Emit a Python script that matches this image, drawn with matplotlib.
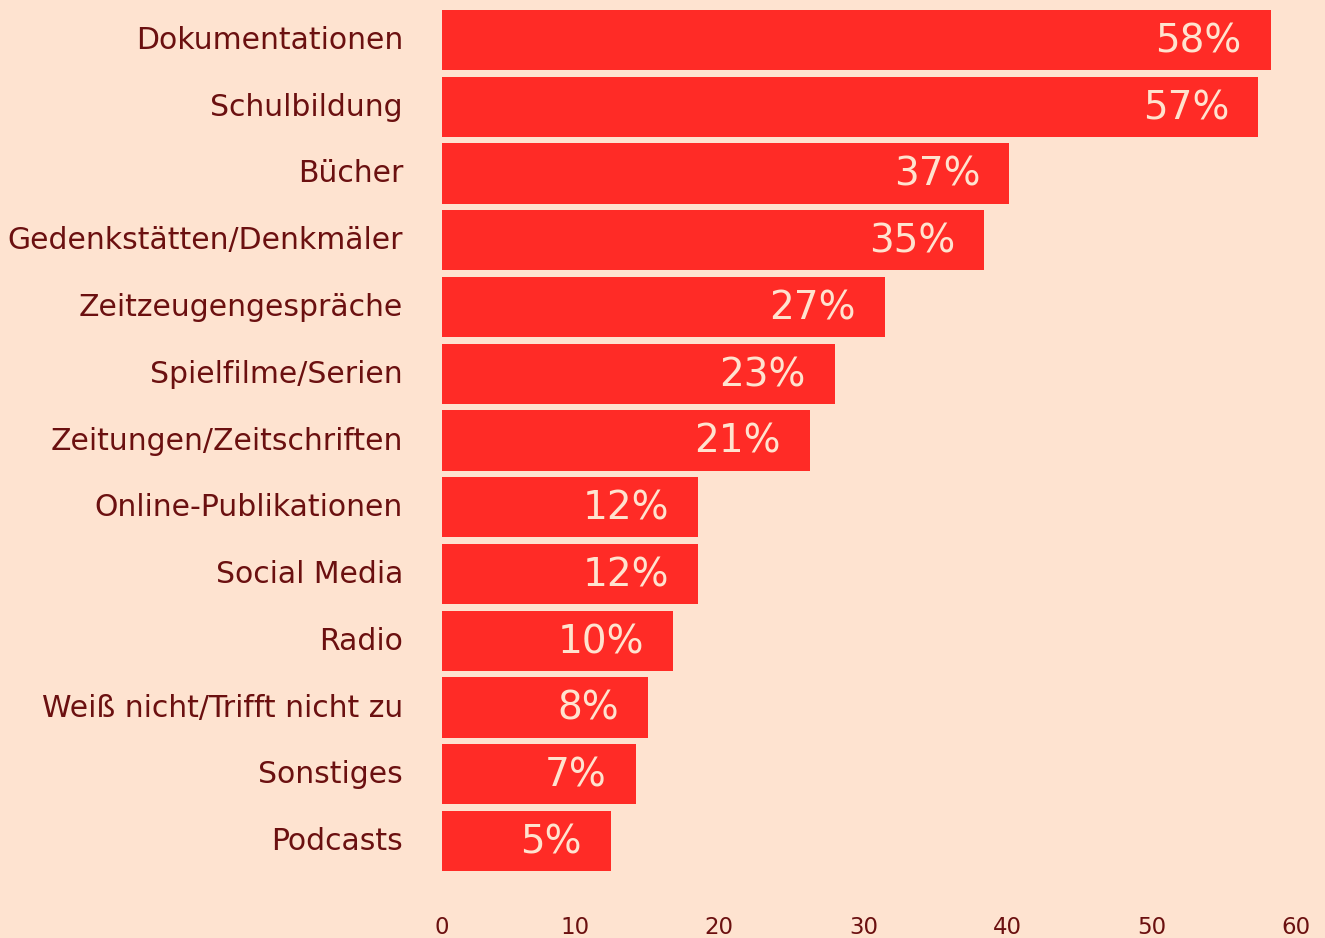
import numpy as np
import matplotlib
matplotlib.use("Agg")
import matplotlib.pyplot as plt
from matplotlib.transforms import ScaledTranslation

categories = ["Dokumentationen", "Schulbildung", "Bücher", "Gedenkstätten/Denkmäler",
              "Zeitzeugengespräche", "Spielfilme/Serien", "Zeitungen/Zeitschriften",
              "Online-Publikationen", "Social Media", "Radio",
              "Weiß nicht/Trifft nicht zu", "Sonstiges", "Podcasts"]
values = [58, 57, 37, 35, 27, 23, 21, 12, 12, 10, 8, 7, 5]
tick_values = [0, 10, 20, 30, 40, 50, 60]
tick_labels = ["0", "10", "20", "30", "40", "50", "60"]

BG = "#fee3d0"
BAR = "#ff2b26"
TXT = "#6b1010"
VAL = "#ffe3cf"

plt.rcParams['font.family'] = ['DejaVu Sans']

W, H = 1325, 938
fig = plt.figure(figsize=(W / 100, H / 100), dpi=100, facecolor=BG)

# main axes (bar scale)
base = -8.57
x_left_px, x_right_px = 442, 1325
y_top_px, y_bot_px = 6.6, 874.4
ax = fig.add_axes([x_left_px / W, (H - y_bot_px) / H,
                   (x_right_px - x_left_px) / W, (y_bot_px - y_top_px) / H])
ax.set_facecolor(BG)
y = np.arange(len(categories))
vals = np.array(values, dtype=float)
ax.barh(y, vals - base, left=base, height=0.9, color=BAR)
ax.set_xlim(base, 62.36)
ax.set_ylim(len(categories) - 0.5, -0.5)
ax.set_yticks(y)
ax.set_yticklabels(categories, fontsize=21.5, color=TXT)
ax.tick_params(axis='y', length=0, pad=28)
ax.tick_params(axis='x', bottom=False, labelbottom=False)
for s in ax.spines.values():
    s.set_visible(False)
shift_up = ScaledTranslation(0, 2.5 / 100, fig.dpi_scale_trans)
for lbl in ax.get_yticklabels():
    lbl.set_transform(lbl.get_transform() + shift_up)

for yi, v in zip(y, values):
    ax.annotate(f"{v}%", xy=(v, yi), xytext=(-21, -1), textcoords='offset points',
                ha='right', va='center', fontsize=28, color=VAL)

# tick axis
tx_left_px = 400
tax = fig.add_axes([tx_left_px / W, (H - 912) / H, (W - tx_left_px) / W, 0.001])
tax.patch.set_visible(False)
px_per = 14.42
zero_px = 575 - 10 * px_per
tax.set_xlim((tx_left_px - zero_px) / px_per, (W - zero_px) / px_per)
tax.set_xticks(tick_values)
tax.set_xticklabels(tick_labels, fontsize=16.5, color=TXT)
tax.tick_params(axis='x', length=0, pad=3)
tax.set_yticks([])
for s in tax.spines.values():
    s.set_visible(False)
lbl0 = tax.get_xticklabels()[0]
lbl0.set_transform(lbl0.get_transform() + ScaledTranslation(11 / 100, 0, fig.dpi_scale_trans))

fig.savefig("out.png", dpi=100, facecolor=BG)
